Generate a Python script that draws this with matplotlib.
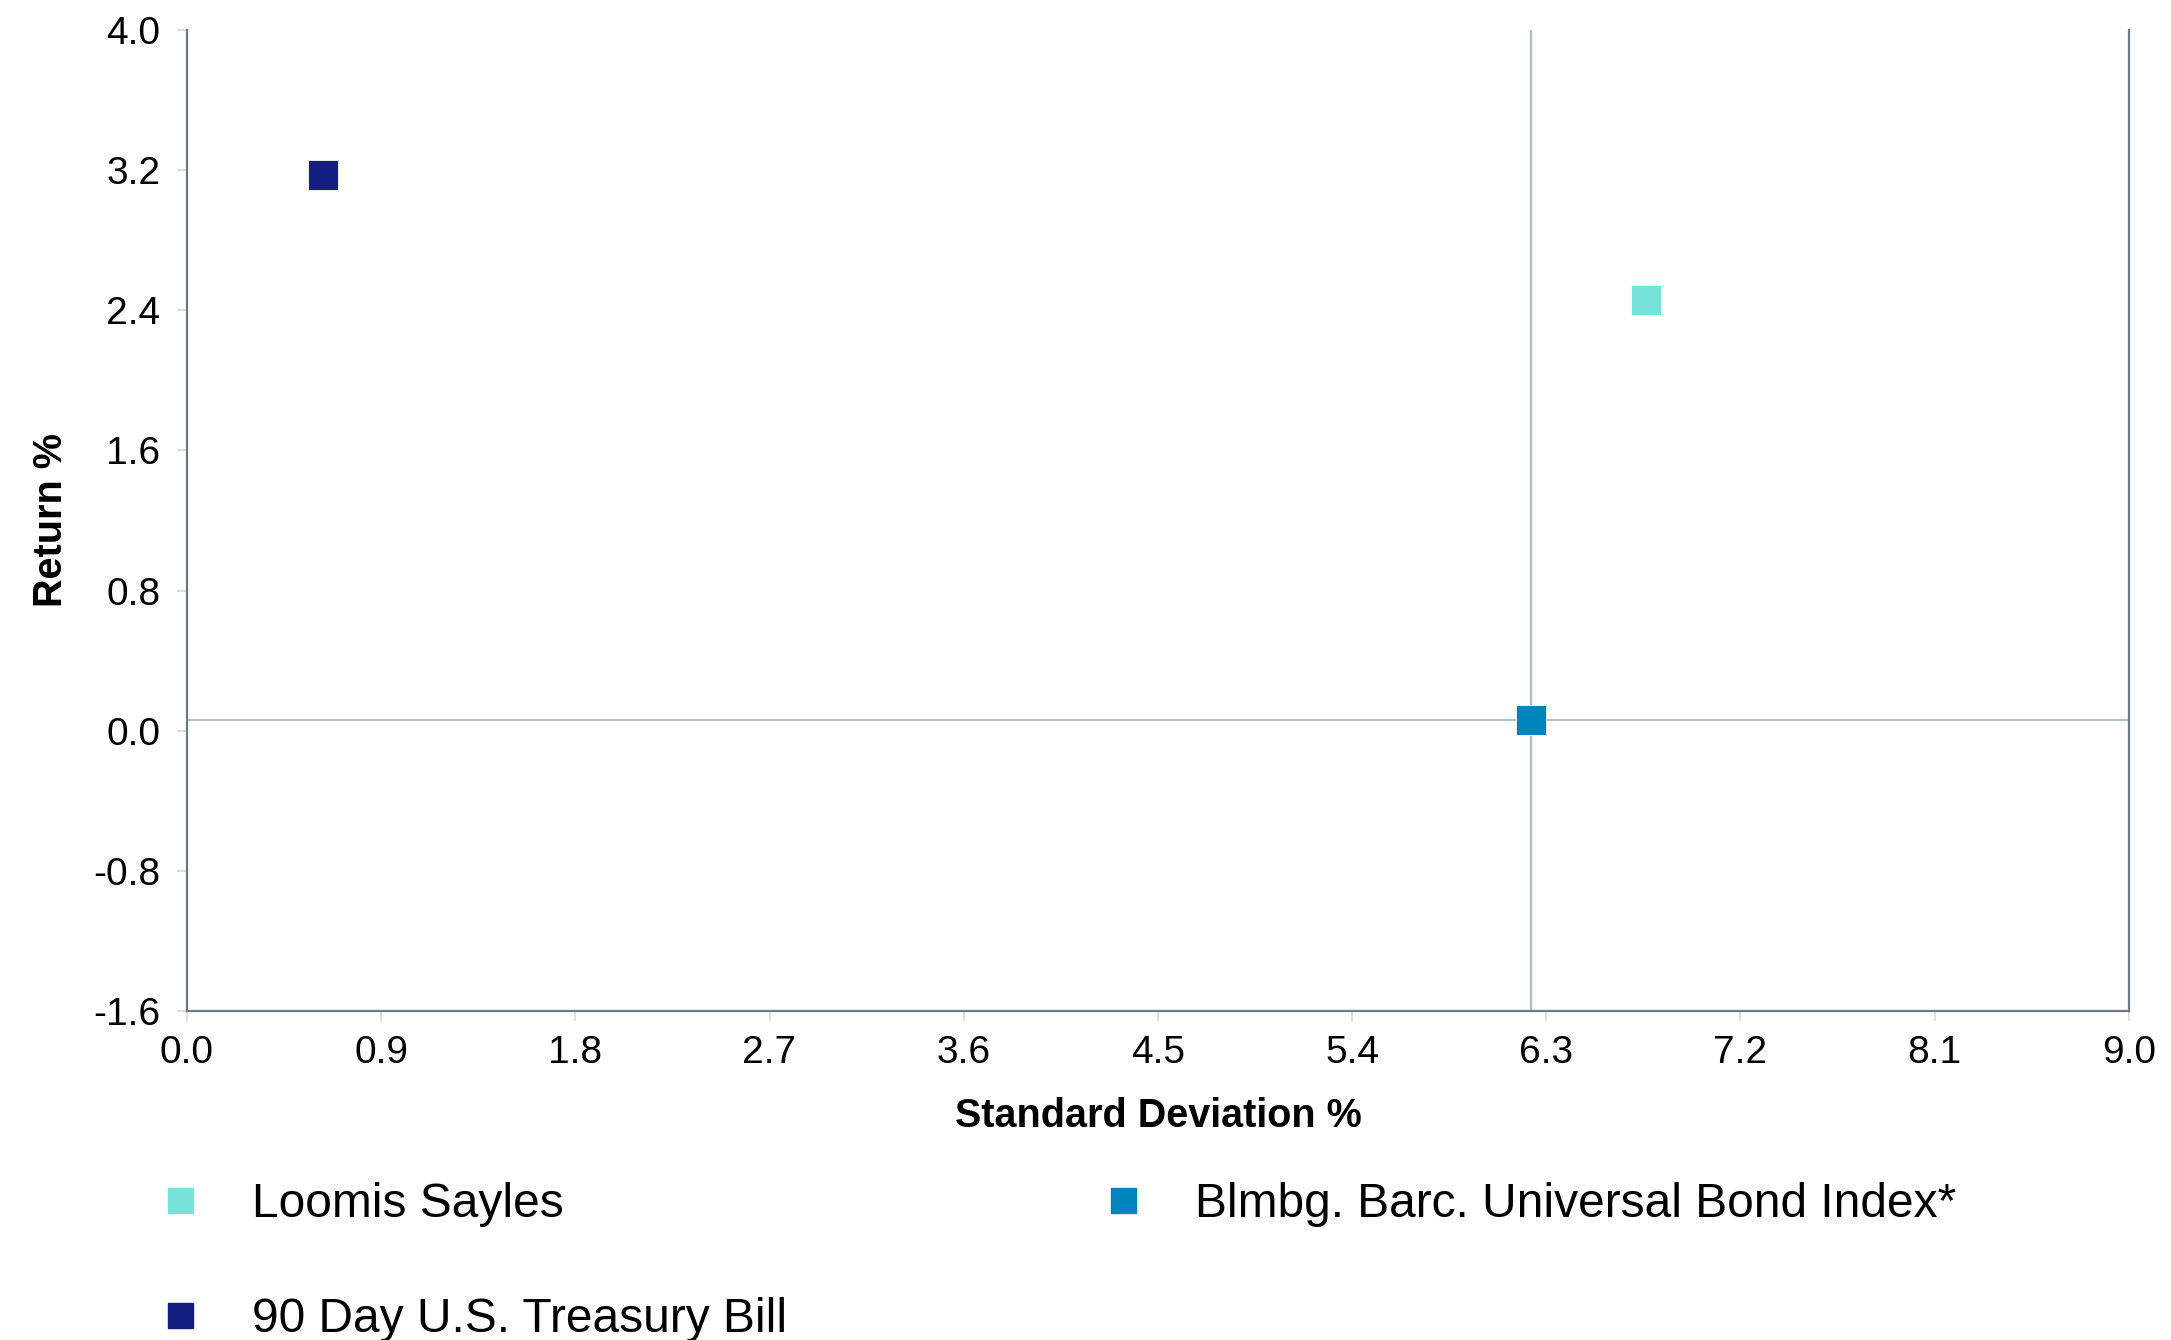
import numpy as np
import matplotlib.pyplot as plt
from matplotlib.lines import Line2D

plt.rcParams['font.family'] = ['Liberation Sans', 'DejaVu Sans']

# data
names = ['Loomis Sayles', 'Blmbg. Barc. Universal Bond Index*', '90 Day U.S. Treasury Bill']
std_dev = [6.76, 6.23, 0.63]
returns = [2.46, 0.06, 3.17]
colors = ['#76E2D8', '#0084BC', '#121F80']
bench = 1  # crosshair goes through the benchmark

xticks = np.arange(0, 9.01, 0.9)
yticks = np.arange(-1.6, 4.01, 0.8)

fig = plt.figure(figsize=(21.71, 13.40), dpi=100)
ax = fig.add_axes([0.0861, 0.2455, 0.8945, 0.7321])

ax.axvline(std_dev[bench], color='#AFC1C6', lw=1.6, zorder=1)
ax.axhline(returns[bench], color='#AFC1C6', lw=1.6, zorder=1)

for x, y, c in zip(std_dev, returns, colors):
    ax.plot(x, y, marker='s', ms=21, color=c, mec='white', mew=0.6, ls='none', zorder=3)

ax.set_xlim(0, 9.0)
ax.set_ylim(-1.6, 4.0)
ax.set_xticks(xticks)
ax.set_yticks(yticks)
ax.set_xticklabels(['%.1f' % v for v in xticks])
ax.set_yticklabels(['%.1f' % v for v in yticks])
ax.tick_params(axis='both', labelsize=28, length=7, width=1.2, color='#D5D8DB', direction='out')
ax.tick_params(axis='y', pad=12)
ax.tick_params(axis='x', pad=10)

for s in ['left', 'bottom', 'right']:
    ax.spines[s].set_color('#6C7A88')
    ax.spines[s].set_linewidth(1.6)
ax.spines['top'].set_visible(False)

ax.set_xlabel('Standard Deviation %', fontsize=28.5, fontweight='bold', labelpad=19)
ax.set_ylabel('Return %', fontsize=28.5, fontweight='bold', labelpad=17)

handles = [Line2D([], [], marker='s', ms=18, color=c, ls='none') for c in colors]
order = [0, 2, 1]
fig.legend([handles[i] for i in order], [names[i] for i in order],
           ncol=2, loc='upper left', bbox_to_anchor=(0.0742, 0.118),
           frameon=False, fontsize=34.5, handletextpad=1.1, columnspacing=6.6,
           labelspacing=1.46, handlelength=0.8, borderaxespad=0, borderpad=0)

fig.savefig('out.png', dpi=100)
